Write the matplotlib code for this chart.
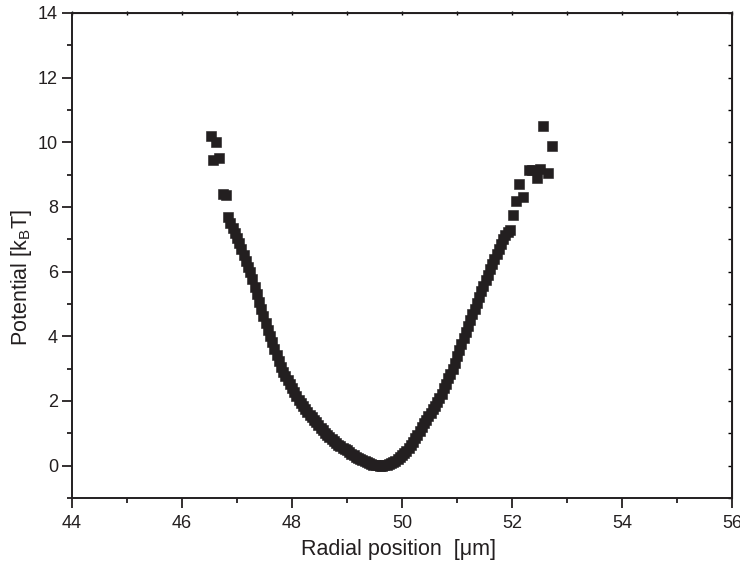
import matplotlib
matplotlib.use('Agg')
import matplotlib.pyplot as plt
from matplotlib.ticker import MultipleLocator

plt.rcParams['font.family'] = ['Liberation Sans', 'DejaVu Sans']
plt.rcParams['mathtext.fontset'] = 'custom'
plt.rcParams['mathtext.rm'] = 'Liberation Sans'

# scattered points at the high-potential ends
left_x = [46.52, 46.62, 46.57, 46.67, 46.75, 46.80]
left_y = [10.20, 10.00, 9.45, 9.53, 8.40, 8.37]

right_x = [51.96, 52.01, 52.08, 52.13, 52.20, 52.30, 52.36, 52.45, 52.51, 52.65, 52.72, 52.56]
right_y = [7.29, 7.75, 8.17, 8.71, 8.32, 9.14, 9.14, 8.90, 9.17, 9.05, 9.90, 10.52]

# main well, left side
well_left_x = [46.84, 46.88, 46.92, 46.96, 47.00, 47.04, 47.08, 47.12, 47.16, 47.20,
               47.24, 47.28, 47.32, 47.36, 47.40, 47.44, 47.48, 47.52, 47.56, 47.60,
               47.64, 47.68, 47.72, 47.76, 47.80, 47.84, 47.88, 47.92, 47.96, 48.00,
               48.04, 48.08, 48.12, 48.16, 48.20, 48.24, 48.28, 48.32, 48.36, 48.40,
               48.44, 48.48, 48.52, 48.56, 48.60, 48.64, 48.68, 48.72, 48.76, 48.80,
               48.84, 48.88, 48.92, 48.96, 49.00, 49.04, 49.08, 49.12, 49.16, 49.20,
               49.24, 49.28, 49.32, 49.36, 49.40, 49.44, 49.48, 49.52, 49.56, 49.60]
well_left_y = [7.68, 7.52, 7.36, 7.20, 7.04, 6.88, 6.71, 6.52, 6.33, 6.15,
               5.98, 5.76, 5.53, 5.30, 5.06, 4.84, 4.63, 4.42, 4.21, 4.00,
               3.81, 3.62, 3.43, 3.24, 3.05, 2.90, 2.77, 2.64, 2.52, 2.40,
               2.28, 2.16, 2.04, 1.94, 1.85, 1.76, 1.67, 1.58, 1.50, 1.42,
               1.34, 1.26, 1.18, 1.10, 1.02, 0.95, 0.88, 0.82, 0.76, 0.70,
               0.65, 0.60, 0.55, 0.51, 0.47, 0.42, 0.37, 0.32, 0.27, 0.23,
               0.20, 0.16, 0.13, 0.10, 0.07, 0.05, 0.03, 0.02, 0.01, 0.00]

# main well, right side
well_right_x = [49.64, 49.68, 49.72, 49.76, 49.80, 49.84, 49.88, 49.92, 49.96, 50.00,
                50.04, 50.08, 50.12, 50.16, 50.20, 50.24, 50.28, 50.32, 50.36, 50.40,
                50.44, 50.48, 50.52, 50.56, 50.60, 50.64, 50.68, 50.72, 50.76, 50.80,
                50.84, 50.88, 50.92, 50.96, 51.00, 51.04, 51.08, 51.12, 51.16, 51.20,
                51.24, 51.28, 51.32, 51.36, 51.40, 51.44, 51.48, 51.52, 51.56, 51.60,
                51.64, 51.68, 51.72, 51.76, 51.80, 51.84, 51.88, 51.92]
well_right_y = [0.00, 0.01, 0.03, 0.05, 0.08, 0.11, 0.15, 0.20, 0.26, 0.32,
                0.39, 0.46, 0.54, 0.63, 0.73, 0.84, 0.96, 1.08, 1.20, 1.31,
                1.42, 1.53, 1.63, 1.74, 1.85, 1.96, 2.08, 2.23, 2.39, 2.54,
                2.70, 2.85, 3.00, 3.19, 3.38, 3.57, 3.76, 3.95, 4.13, 4.31,
                4.49, 4.68, 4.86, 5.04, 5.22, 5.39, 5.57, 5.74, 5.91, 6.08,
                6.23, 6.38, 6.54, 6.69, 6.84, 7.00, 7.12, 7.22]

x = left_x + well_left_x + well_right_x + right_x
y = left_y + well_left_y + well_right_y + right_y

fig = plt.figure(figsize=(7.4, 5.65), dpi=100)
ax = fig.add_axes([0.0973, 0.1186, 0.8919, 0.8584])

ax.plot(x, y, linestyle='none', marker='s', markersize=6.8,
        color='#231f20', markeredgecolor='#231f20', markeredgewidth=0.4)

ax.set_xlim(44, 56)
ax.set_ylim(-1, 14)
ax.xaxis.set_major_locator(MultipleLocator(2))
ax.xaxis.set_minor_locator(MultipleLocator(1))
ax.yaxis.set_major_locator(MultipleLocator(2))
ax.yaxis.set_minor_locator(MultipleLocator(1))
ax.tick_params(which='major', direction='out', length=7, width=1.3, labelsize=13,
               colors='#231f20')
ax.tick_params(axis='x', which='major', pad=5)
ax.tick_params(axis='y', which='major', pad=3)
ax.tick_params(which='minor', direction='out', length=3.6, width=1.3, colors='#231f20')
for s in ax.spines.values():
    s.set_linewidth(1.4)
    s.set_color('#231f20')

# small ticks on top and right edges
top = ax.secondary_xaxis('top')
top.xaxis.set_major_locator(MultipleLocator(1))
top.tick_params(direction='inout', length=3, width=1, labeltop=False)
right = ax.secondary_yaxis('right')
right.yaxis.set_major_locator(MultipleLocator(1))
right.tick_params(direction='in', length=3, width=1, labelright=False)

ax.set_xlabel('Radial position  [μm]', fontsize=15.5, color='#231f20')
ax.set_ylabel('Potential [k$_\\mathregular{B}$T]', fontsize=15.5, color='#231f20')
ax.xaxis.set_label_coords(0.495, -0.085)
ax.yaxis.set_label_coords(-0.057, 0.455)

fig.savefig('out.png', dpi=100)
